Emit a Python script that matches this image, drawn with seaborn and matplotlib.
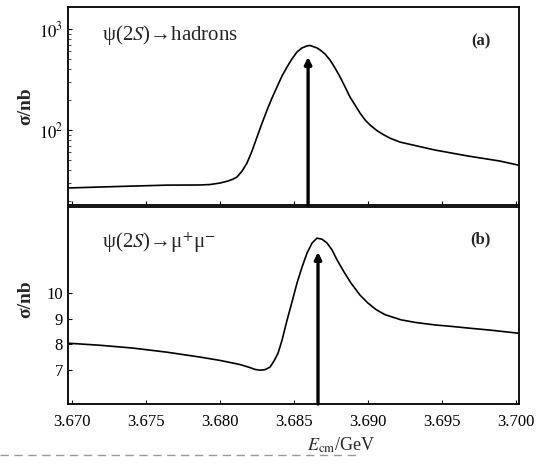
import numpy as np
import pandas as pd
import matplotlib
matplotlib.use("Agg")
import matplotlib.pyplot as plt
from matplotlib.lines import Line2D
from matplotlib.ticker import LogLocator, FixedLocator, NullFormatter
import seaborn as sns

# curve (a): psi(2S) -> hadrons
e_had = [3.66973, 3.67189, 3.67412, 3.67642, 3.67865, 3.67932, 3.68000, 3.68054,
         3.68088, 3.68115, 3.68149, 3.68182, 3.68216, 3.68250, 3.68284, 3.68318,
         3.68351, 3.68385, 3.68419, 3.68453, 3.68486, 3.68520, 3.68554, 3.68588,
         3.68608, 3.68655, 3.68676, 3.68710, 3.68743, 3.68777, 3.68811, 3.68845,
         3.68878, 3.68912, 3.68946, 3.68980, 3.69014, 3.69061, 3.69101, 3.69149,
         3.69216, 3.69351, 3.69453, 3.69676, 3.69892, 3.70014]
sig_had = [26.7, 27.3, 27.9, 28.5, 28.6, 28.9, 29.9, 31.3,
           32.7, 34.3, 39.3, 47.1, 61.9, 85.3, 117, 158,
           207, 267, 343, 421, 505, 592, 649, 680,
           687, 649, 620, 565, 493, 411, 335, 267,
           212, 177, 147, 126, 112, 98.5, 90.5, 83,
           76, 68.5, 63.4, 55.3, 49.3, 45.0]

# curve (b): psi(2S) -> mu+ mu-
e_mu = [3.66973, 3.67189, 3.67412, 3.67642, 3.67865, 3.68000, 3.68135, 3.68203,
        3.68236, 3.68270, 3.68304, 3.68338, 3.68365, 3.68392, 3.68419, 3.68453,
        3.68486, 3.68520, 3.68554, 3.68588, 3.68622, 3.68655, 3.68689, 3.68723,
        3.68757, 3.68791, 3.68838, 3.68885, 3.68946, 3.69000, 3.69054, 3.69115,
        3.69223, 3.69318, 3.69453, 3.69554, 3.69676, 3.69824, 3.70014]
sig_mu = [8.05, 7.97, 7.86, 7.70, 7.51, 7.38, 7.22, 7.10,
          7.03, 7.00, 7.02, 7.12, 7.36, 7.66, 8.17, 8.95,
          9.65, 10.39, 11.01, 11.56, 11.95, 12.14, 12.10, 11.95,
          11.68, 11.29, 10.82, 10.39, 9.92, 9.61, 9.36, 9.16,
          8.96, 8.86, 8.76, 8.71, 8.64, 8.56, 8.44]

# resonance arrows (position, tip height)
arrow_a = (3.68595, 528)
arrow_b = (3.68662, 11.6)

x_ticks = [3.670, 3.675, 3.680, 3.685, 3.690, 3.695, 3.700]
y_ticks_b = [7, 8, 9, 10]

df_a = pd.DataFrame({"E": e_had, "sigma": sig_had})
df_b = pd.DataFrame({"E": e_mu, "sigma": sig_mu})

sns.set_theme(style="ticks")
plt.rcParams["font.family"] = ["Liberation Serif", "DejaVu Serif"]
plt.rcParams["mathtext.fontset"] = "stix"

fig = plt.figure(figsize=(5.38, 4.65), dpi=100)
ax1 = fig.add_axes([0.1264, 0.559, 0.8383, 0.426])
ax2 = fig.add_axes([0.1264, 0.131, 0.8383, 0.4237])

sns.lineplot(data=df_a, x="E", y="sigma", ax=ax1, color="black", lw=1.2, sort=False)
sns.lineplot(data=df_b, x="E", y="sigma", ax=ax2, color="black", lw=1.2, sort=False)

for ax in (ax1, ax2):
    ax.set_xlim(3.66973, 3.70020)
    ax.xaxis.set_major_locator(FixedLocator(x_ticks))
    ax.tick_params(direction="in", length=3, width=0.8, labelsize=12, colors="black")
    ax.tick_params(which="minor", direction="in", length=2, width=0.6)
    for s in ax.spines.values():
        s.set_linewidth(1.3)
        s.set_color("black")
    ax.set_xlabel("")
    ax.set_ylabel("σ/nb", fontsize=14, fontweight="bold")

# panel (a): log scale
ax1.set_yscale("log")
ax1.set_ylim(18.1, 1650)
ax1.yaxis.set_minor_locator(LogLocator(base=10, subs=np.arange(2, 10)))
ax1.yaxis.set_minor_formatter(NullFormatter())
ax1.set_yticks([100, 1000])
ax1.set_yticklabels([r"$10^2$", r"$10^3$"])
ax1.tick_params(axis="x", labelbottom=False)
ax1.yaxis.set_label_coords(-0.075, 0.5)

# panel (b): linear
ax2.set_ylim(5.68, 13.35)
ax2.set_yticks(y_ticks_b)
ax2.set_yticklabels([str(v) for v in y_ticks_b])
ax2.set_xticklabels([f"{v:.3f}" for v in x_ticks])
ax2.tick_params(axis="x", pad=7)
ax2.yaxis.set_label_coords(-0.075, 0.53)
ax2.set_xlabel(r"$E_{\rm cm}$/GeV", fontsize=13)
ax2.xaxis.set_label_coords(0.605, -0.16)

# arrows marking the resonance mass
ax1.annotate("", xy=(arrow_a[0], arrow_a[1]), xytext=(arrow_a[0], 18.1),
             arrowprops=dict(arrowstyle="-|>", color="black", lw=2.4,
                             mutation_scale=10, shrinkA=0, shrinkB=0))
ax2.annotate("", xy=(arrow_b[0], arrow_b[1]), xytext=(arrow_b[0], 5.68),
             arrowprops=dict(arrowstyle="-|>", color="black", lw=2.4,
                             mutation_scale=10, shrinkA=0, shrinkB=0))

ax1.text(0.075, 0.86, "ψ(2$S$)→hadrons", transform=ax1.transAxes,
         fontsize=15, va="center")
ax1.text(0.915, 0.825, "(a)", transform=ax1.transAxes, fontsize=12,
         fontweight="bold", ha="center", va="center")
ax2.text(0.075, 0.82, "ψ(2$S$)→μ$^{+}$μ$^{-}$", transform=ax2.transAxes,
         fontsize=15, va="center")
ax2.text(0.915, 0.835, "(b)", transform=ax2.transAxes, fontsize=12,
         fontweight="bold", ha="center", va="center")

# dashed scan line under the figure
fig.add_artist(Line2D([0.0, 0.67], [0.022, 0.022], transform=fig.transFigure,
                      color="#999999", lw=1.0, ls=(0, (6, 4))))

fig.savefig("out.png", dpi=100)
